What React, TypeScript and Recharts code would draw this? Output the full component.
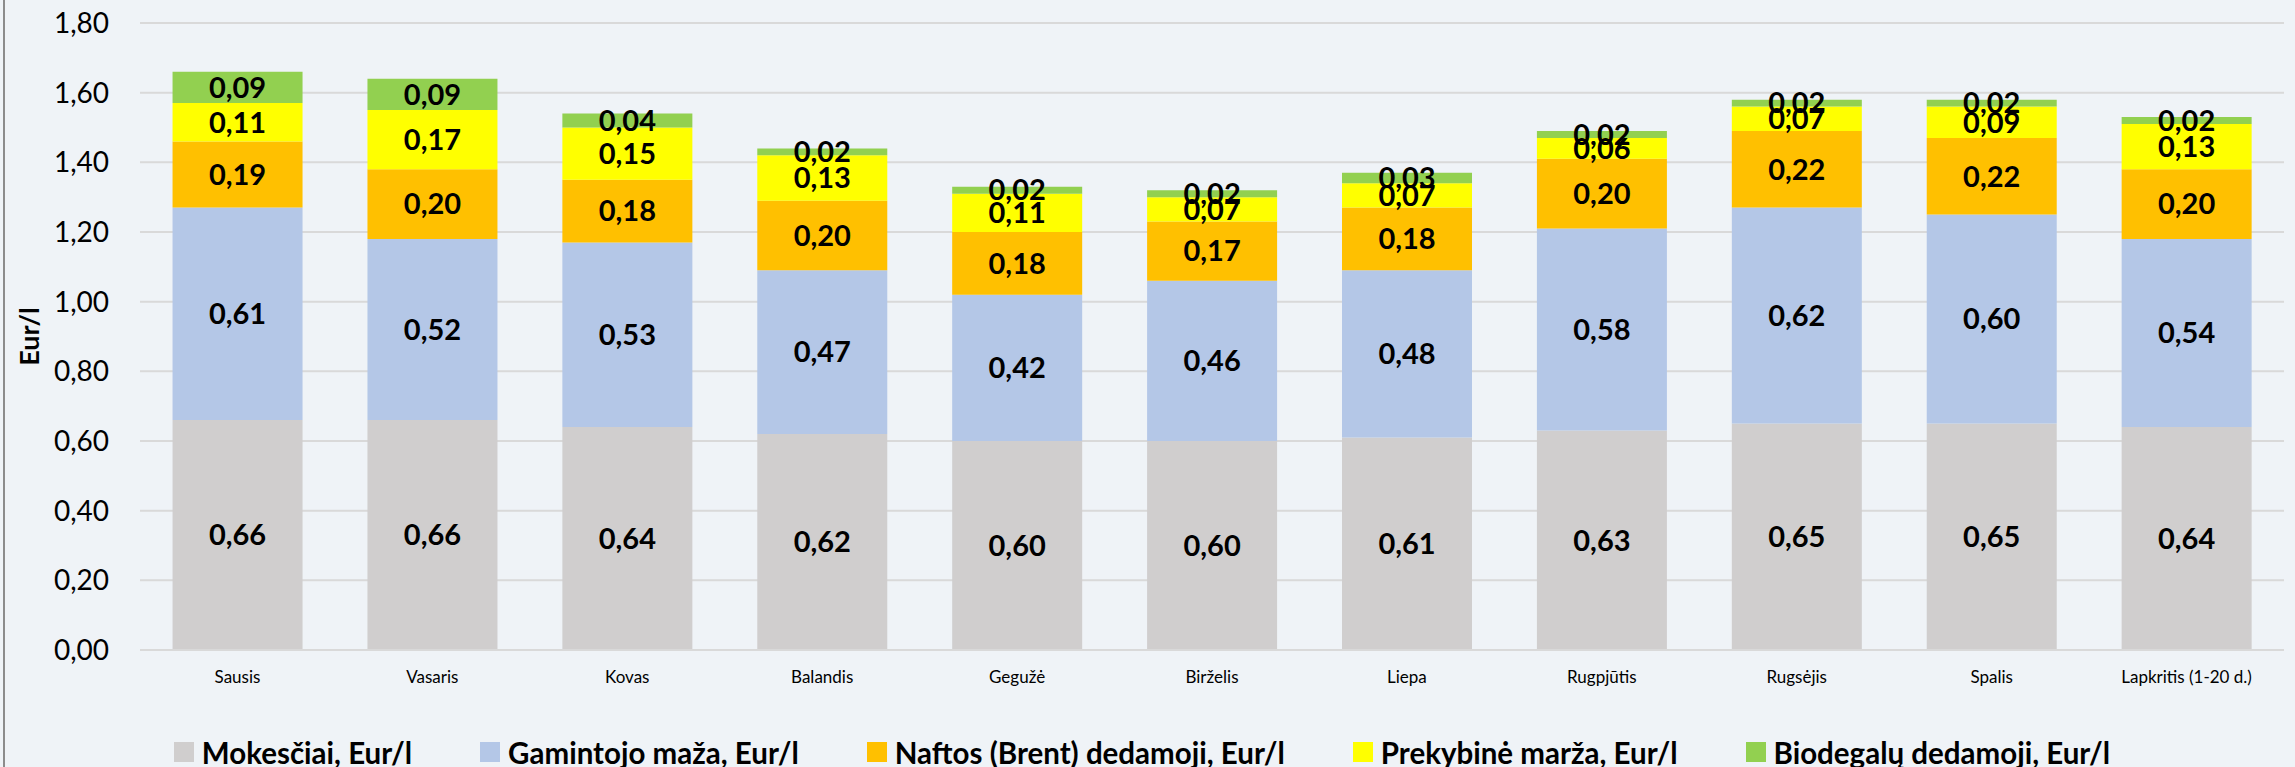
import { BarChart, Bar, XAxis, YAxis, CartesianGrid, Legend, LabelList } from 'recharts';

const months = [
  'Sausis',
  'Vasaris',
  'Kovas',
  'Balandis',
  'Gegužė',
  'Birželis',
  'Liepa',
  'Rugpjūtis',
  'Rugsėjis',
  'Spalis',
  'Lapkritis (1-20 d.)',
];
const mokesciai = [0.66, 0.66, 0.64, 0.62, 0.6, 0.6, 0.61, 0.63, 0.65, 0.65, 0.64];
const gamintojo = [0.61, 0.52, 0.53, 0.47, 0.42, 0.46, 0.48, 0.58, 0.62, 0.6, 0.54];
const naftos = [0.19, 0.2, 0.18, 0.2, 0.18, 0.17, 0.18, 0.2, 0.22, 0.22, 0.2];
const prekybine = [0.11, 0.17, 0.15, 0.13, 0.11, 0.07, 0.07, 0.06, 0.07, 0.09, 0.13];
const biodegalai = [0.09, 0.09, 0.04, 0.02, 0.02, 0.02, 0.03, 0.02, 0.02, 0.02, 0.02];
const yTicks = [0, 0.2, 0.4, 0.6, 0.8, 1.0, 1.2, 1.4, 1.6, 1.8];

const SERIES = [
  { key: 'mokesciai', name: 'Mokesčiai, Eur/l', color: '#d0cece' },
  { key: 'gamintojo', name: 'Gamintojo maža, Eur/l', color: '#b4c7e7' },
  { key: 'naftos', name: 'Naftos (Brent) dedamoji, Eur/l', color: '#ffc000' },
  { key: 'prekybine', name: 'Prekybinė marža, Eur/l', color: '#ffff00' },
  { key: 'biodegalai', name: 'Biodegalų dedamoji, Eur/l', color: '#92d050' },
];

const data = months.map((m, i) => ({
  month: m,
  mokesciai: mokesciai[i],
  gamintojo: gamintojo[i],
  naftos: naftos[i],
  prekybine: prekybine[i],
  biodegalai: biodegalai[i],
}));

const FONT = 'Lato, "Open Sans", sans-serif';
const fmt = (v: number) => v.toFixed(2).replace('.', ',');

function LegendContent() {
  return (
    <div
      style={{
        display: 'flex',
        justifyContent: 'center',
        alignItems: 'center',
        height: 30,
        fontFamily: FONT,
        fontWeight: 700,
        fontSize: 29.5,
        color: '#000',
      }}
    >
      {SERIES.map((s) => (
        <div key={s.key} style={{ display: 'flex', alignItems: 'center', margin: '0 34px' }}>
          <span style={{ width: 20, height: 20, background: s.color, marginRight: 8, display: 'inline-block' }} />
          <span>{s.name}</span>
        </div>
      ))}
    </div>
  );
}

export default function App() {
  return (
    <div
      style={{
        position: 'absolute',
        left: 0,
        top: 0,
        width: 2295,
        height: 767,
        background: '#eff3f7',
      }}
    >
      {/* chart frame edge on the left */}
      <div style={{ position: 'absolute', left: 3, top: 0, width: 2, height: 767, background: '#8c8c8c' }} />
      <BarChart
        width={2295}
        height={767}
        data={data}
        margin={{ top: 23, right: 11, left: 0, bottom: 0 }}
        barCategoryGap="16.7%"
      >
        <CartesianGrid vertical={false} stroke="#d9d9d9" strokeWidth={2} />
        <XAxis
          dataKey="month"
          height={87}
          tickLine={false}
          axisLine={{ stroke: '#d9d9d9', strokeWidth: 2 }}
          tickMargin={15}
          interval={0}
          tick={{ fontSize: 17, fill: '#000', fontFamily: FONT }}
        />
        <YAxis
          width={140}
          domain={[0, 1.8]}
          ticks={yTicks}
          tickFormatter={fmt}
          axisLine={false}
          tickLine={false}
          tickMargin={25}
          tick={{ fontSize: 28, fill: '#000', fontFamily: FONT }}
          label={{
            value: 'Eur/l',
            angle: -90,
            position: 'insideLeft',
            dx: 24,
            style: { fontSize: 27, fontWeight: 700, fill: '#000', fontFamily: FONT, textAnchor: 'middle' },
          }}
        />
        <Legend verticalAlign="bottom" content={() => <LegendContent />} />
        {SERIES.map((s) => (
          <Bar key={s.key} dataKey={s.key} name={s.name} stackId="a" fill={s.color} isAnimationActive={false}>
            <LabelList
              dataKey={s.key}
              position="center"
              formatter={(v: number) => fmt(v)}
              style={{ fontSize: 29, fontWeight: 700, fill: '#000', fontFamily: FONT }}
            />
          </Bar>
        ))}
      </BarChart>
    </div>
  );
}
